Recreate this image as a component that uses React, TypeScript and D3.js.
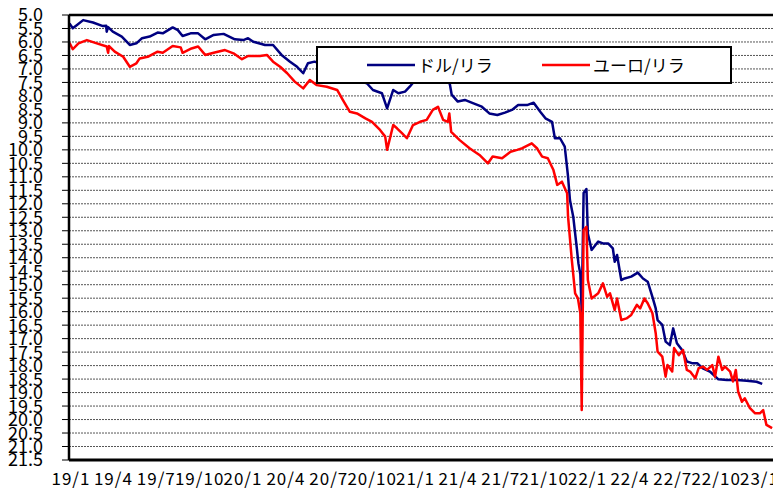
import * as d3 from 'd3';

// USD/TRY and EUR/TRY (date, lira per unit)
const usdTry: [string, number][] = [
  ['2019-01-02', 5.31], ['2019-01-09', 5.49], ['2019-01-18', 5.37], ['2019-01-31', 5.19], ['2019-02-21', 5.28],
  ['2019-03-14', 5.41], ['2019-03-21', 5.40], ['2019-03-22', 5.62], ['2019-03-25', 5.45], ['2019-04-04', 5.62],
  ['2019-04-23', 5.80], ['2019-05-10', 6.11], ['2019-05-24', 6.05], ['2019-06-05', 5.86], ['2019-06-21', 5.80],
  ['2019-07-08', 5.65], ['2019-07-19', 5.68], ['2019-08-09', 5.46], ['2019-08-20', 5.56], ['2019-08-30', 5.78],
  ['2019-09-16', 5.68], ['2019-10-02', 5.68], ['2019-10-17', 5.90], ['2019-11-04', 5.74], ['2019-11-25', 5.70],
  ['2019-12-19', 5.90], ['2020-01-06', 5.93], ['2020-01-16', 5.86], ['2020-01-27', 5.99], ['2020-02-21', 6.11],
  ['2020-03-09', 6.11], ['2020-03-27', 6.48], ['2020-04-14', 6.73], ['2020-04-29', 6.92], ['2020-05-12', 7.16],
  ['2020-05-22', 6.79], ['2020-06-05', 6.73], ['2020-06-25', 6.85], ['2020-07-15', 6.86], ['2020-08-05', 7.10],
  ['2020-08-20', 7.35], ['2020-09-10', 7.45], ['2020-09-24', 7.53], ['2020-10-07', 7.78], ['2020-10-26', 7.90],
  ['2020-11-06', 8.46], ['2020-11-19', 7.78], ['2020-11-30', 7.90], ['2020-12-14', 7.84], ['2020-12-24', 7.66],
  ['2020-12-31', 7.51], ['2021-01-15', 7.40], ['2021-02-05', 7.15], ['2021-02-15', 7.00], ['2021-03-05', 7.35],
  ['2021-03-12', 7.45], ['2021-03-19', 7.55], ['2021-03-23', 7.95], ['2021-04-05', 8.21], ['2021-04-20', 8.15],
  ['2021-05-07', 8.27], ['2021-05-26', 8.40], ['2021-06-11', 8.65], ['2021-06-28', 8.71], ['2021-07-14', 8.62],
  ['2021-07-29', 8.52], ['2021-08-11', 8.34], ['2021-08-30', 8.34], ['2021-09-13', 8.25], ['2021-09-27', 8.59],
  ['2021-10-08', 8.83], ['2021-10-22', 8.96], ['2021-10-28', 9.57], ['2021-11-08', 9.57], ['2021-11-18', 9.88],
  ['2021-11-25', 10.99], ['2021-11-29', 11.86], ['2021-12-06', 12.48], ['2021-12-14', 13.71], ['2021-12-17', 14.21],
  ['2021-12-21', 14.6], ['2021-12-24', 16.0], ['2021-12-28', 11.6], ['2022-01-03', 11.45], ['2022-01-06', 13.1],
  ['2022-01-14', 13.71], ['2022-01-28', 13.40], ['2022-02-07', 13.47], ['2022-02-18', 13.47], ['2022-02-28', 13.65],
  ['2022-03-04', 14.15], ['2022-03-09', 13.9], ['2022-03-18', 14.83], ['2022-03-25', 14.77], ['2022-04-08', 14.70],
  ['2022-04-22', 14.55], ['2022-05-03', 14.77], ['2022-05-13', 14.89], ['2022-05-23', 15.45], ['2022-05-30', 15.88],
  ['2022-06-03', 16.31], ['2022-06-13', 16.49], ['2022-06-20', 17.11], ['2022-06-29', 17.24], ['2022-07-06', 16.62],
  ['2022-07-14', 17.17], ['2022-07-25', 17.42], ['2022-08-04', 17.85], ['2022-08-15', 17.91], ['2022-08-26', 17.91],
  ['2022-09-07', 18.10], ['2022-09-22', 18.22], ['2022-10-10', 18.51], ['2022-10-28', 18.53], ['2022-11-18', 18.53],
  ['2022-12-09', 18.56], ['2022-12-30', 18.6], ['2023-01-11', 18.68],
];

const eurTry: [string, number][] = [
  ['2019-01-02', 6.03], ['2019-01-09', 6.27], ['2019-01-21', 6.05], ['2019-02-08', 5.93], ['2019-03-01', 6.05],
  ['2019-03-22', 6.17], ['2019-03-25', 6.40], ['2019-03-27', 6.15], ['2019-04-08', 6.36], ['2019-04-26', 6.55],
  ['2019-05-10', 6.92], ['2019-05-24', 6.79], ['2019-05-31', 6.61], ['2019-06-17', 6.55], ['2019-07-08', 6.36],
  ['2019-07-19', 6.40], ['2019-08-09', 6.15], ['2019-08-26', 6.20], ['2019-08-30', 6.40], ['2019-09-18', 6.24],
  ['2019-10-02', 6.17], ['2019-10-17', 6.48], ['2019-11-04', 6.40], ['2019-11-28', 6.30], ['2019-12-16', 6.42],
  ['2020-01-03', 6.64], ['2020-01-16', 6.52], ['2020-02-10', 6.52], ['2020-02-25', 6.48], ['2020-03-09', 6.73],
  ['2020-03-24', 6.92], ['2020-04-08', 7.16], ['2020-04-24', 7.47], ['2020-05-12', 7.72], ['2020-05-26', 7.41],
  ['2020-06-10', 7.60], ['2020-07-01', 7.66], ['2020-07-23', 7.78], ['2020-08-04', 8.15], ['2020-08-19', 8.59],
  ['2020-09-03', 8.65], ['2020-09-21', 8.83], ['2020-10-05', 8.96], ['2020-10-22', 9.26], ['2020-11-02', 9.51],
  ['2020-11-06', 10.0], ['2020-11-19', 9.08], ['2020-11-27', 9.20], ['2020-12-08', 9.39], ['2020-12-18', 9.57],
  ['2020-12-31', 9.08], ['2021-01-15', 8.96], ['2021-01-29', 8.89], ['2021-02-11', 8.52], ['2021-02-22', 8.40],
  ['2021-03-05', 8.89], ['2021-03-15', 8.96], ['2021-03-18', 8.65], ['2021-03-22', 9.33], ['2021-04-09', 9.64],
  ['2021-04-30', 9.94], ['2021-05-21', 10.19], ['2021-06-08', 10.50], ['2021-06-18', 10.25], ['2021-07-08', 10.31],
  ['2021-07-26', 10.07], ['2021-08-09', 10.0], ['2021-08-20', 9.94], ['2021-09-09', 9.76], ['2021-09-20', 9.94],
  ['2021-10-01', 10.25], ['2021-10-13', 10.31], ['2021-10-25', 10.75], ['2021-11-02', 11.30], ['2021-11-12', 11.18],
  ['2021-11-23', 11.61], ['2021-11-25', 12.48], ['2021-12-03', 14.09], ['2021-12-10', 15.32], ['2021-12-16', 15.51],
  ['2021-12-21', 16.06], ['2021-12-24', 19.65], ['2021-12-28', 12.97], ['2022-01-03', 12.85], ['2022-01-06', 14.83],
  ['2022-01-14', 15.51], ['2022-01-28', 15.32], ['2022-02-07', 14.95], ['2022-02-16', 15.45], ['2022-02-22', 15.32],
  ['2022-03-04', 15.94], ['2022-03-09', 15.51], ['2022-03-18', 16.31], ['2022-03-29', 16.25], ['2022-04-08', 16.12],
  ['2022-04-20', 15.75], ['2022-04-27', 15.88], ['2022-05-06', 15.51], ['2022-05-13', 15.69], ['2022-05-23', 16.06],
  ['2022-05-30', 16.80], ['2022-06-03', 17.48], ['2022-06-13', 17.67], ['2022-06-20', 18.41], ['2022-06-24', 17.98],
  ['2022-07-04', 18.22], ['2022-07-08', 17.35], ['2022-07-18', 17.61], ['2022-07-27', 17.42], ['2022-08-04', 18.16],
  ['2022-08-11', 18.22], ['2022-08-22', 18.47], ['2022-08-29', 18.10], ['2022-09-08', 18.04], ['2022-09-16', 18.16],
  ['2022-09-27', 17.98], ['2022-10-03', 18.41], ['2022-10-10', 17.67], ['2022-10-18', 18.16], ['2022-10-24', 18.04],
  ['2022-11-04', 18.22], ['2022-11-10', 18.59], ['2022-11-16', 18.16], ['2022-11-21', 18.97], ['2022-11-29', 19.34],
  ['2022-12-05', 19.21], ['2022-12-16', 19.58], ['2022-12-27', 19.77], ['2023-01-06', 19.77], ['2023-01-13', 19.65],
  ['2023-01-20', 20.2], ['2023-02-01', 20.32],
];

const seriesNames = ['ドル/リラ', 'ユーロ/リラ'];
const seriesColors = ['#000080', '#ff0000'];

const width = 773;
const height = 489;
const left = 69;
const top = 15;
const bottom = 460;
const font = '"Noto Sans CJK JP", "Noto Sans", sans-serif';

const parse = d3.timeParse('%Y-%m-%d');

export default function App() {
  const x = d3.scaleTime()
    .domain([parse('2019-01-01')!, parse('2023-01-01')!])
    .range([left, 757.5]);
  const y = d3.scaleLinear().domain([5, 21.5]).range([top, bottom]);

  const yTicks = d3.range(5, 21.51, 0.5);
  const xTicks = d3.timeMonth.every(3)!.range(parse('2019-01-01')!, parse('2023-01-02')!);
  const fmt = d3.timeFormat('%y/%-m');

  const line = d3.line<[string, number]>()
    .x(d => x(parse(d[0])!))
    .y(d => y(d[1]));

  const series = [usdTry, eurTry];

  return (
    <div style={{ position: 'absolute', left: 0, top: 0 }}>
      <svg width={width} height={height} style={{ display: 'block', background: '#fff' }}>
        {/* grid lines */}
        {yTicks.slice(1, -1).map(v => (
          <line key={'g' + v} x1={left} x2={width} y1={y(v)} y2={y(v)}
            stroke="#555" strokeWidth={1} strokeDasharray="2,1" />
        ))}
        {/* tick marks */}
        {yTicks.map(v => (
          <line key={'t' + v} x1={left - 7} x2={left} y1={y(v)} y2={y(v)} stroke="#000" strokeWidth={1} />
        ))}
        {yTicks.map(v => (
          <text key={'l' + v} x={43} y={y(v)} dy="0.36em" textAnchor="end"
            fontFamily={font} fontSize={18} fill="#000">{v.toFixed(1)}</text>
        ))}
        {xTicks.map(d => (
          <text key={'x' + d.getTime()} x={x(d) + 2} y={485} textAnchor="middle"
            fontFamily={font} fontSize={17} letterSpacing={1} fill="#000">{fmt(d)}</text>
        ))}

        {series.map((s, i) => (
          <path key={i} d={line(s)!} fill="none" stroke={seriesColors[i]} strokeWidth={2.5}
            strokeLinejoin="round" />
        ))}

        {/* frame */}
        <line x1={left} x2={width} y1={top} y2={top} stroke="#000" strokeWidth={2.5} />
        <line x1={left} x2={width} y1={bottom} y2={bottom} stroke="#000" strokeWidth={3} />
        <line x1={left} x2={left} y1={top} y2={bottom} stroke="#000" strokeWidth={2.5} />

        {/* legend */}
        <rect x={317} y={47} width={414} height={36} fill="#fff" stroke="#000" strokeWidth={2} />
        {seriesNames.map((name, i) => (
          <g key={name} transform={`translate(${367 + i * 175},65)`}>
            <line x1={0} x2={48} y1={0} y2={0} stroke={seriesColors[i]} strokeWidth={2.5} />
            <text x={51} y={7} fontFamily={font} fontSize={17} fill="#000">{name}</text>
          </g>
        ))}
      </svg>
    </div>
  );
}
